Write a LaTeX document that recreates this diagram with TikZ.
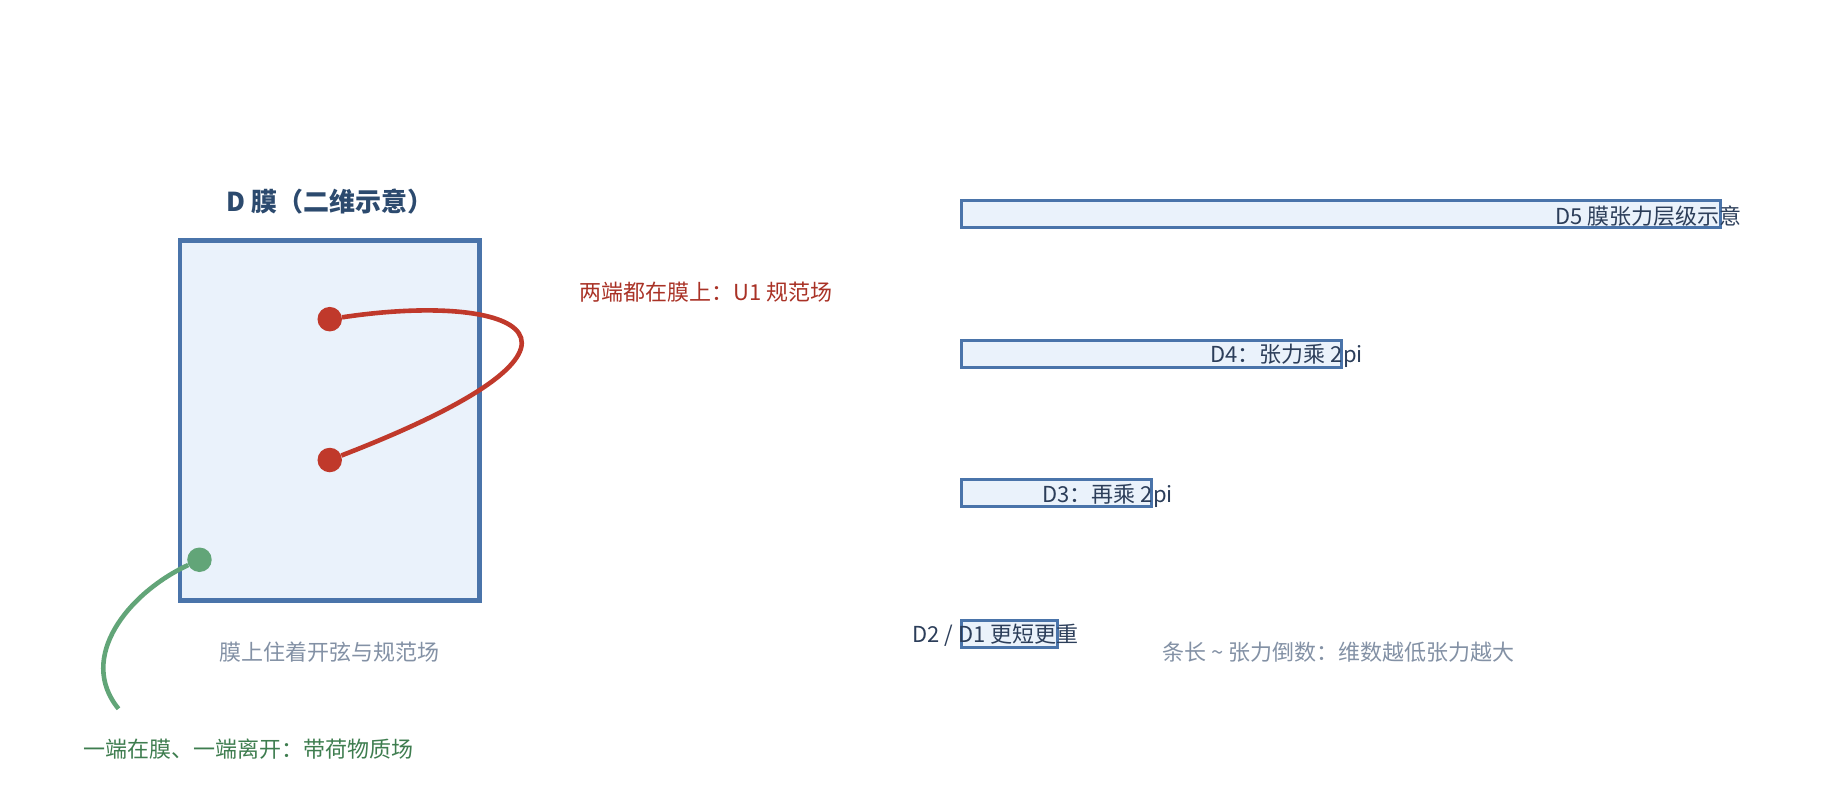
\documentclass[tikz,border=0pt]{standalone}
\usepackage{fontspec}
\setmainfont{Noto Sans CJK SC}
\usetikzlibrary{positioning}
\definecolor{braneblue}{HTML}{4A74AA}
\definecolor{branefill}{HTML}{EAF2FB}
\definecolor{openred}{HTML}{C0392B}
\definecolor{labelred}{HTML}{A93226}
\definecolor{chargegreen}{HTML}{62A578}
\definecolor{labelgreen}{HTML}{3E7D4F}
\definecolor{notegray}{HTML}{8391A5}
\definecolor{titlenavy}{HTML}{2C4A6E}
\definecolor{barnavy}{HTML}{2C3E5A}
\begin{document}
\begin{tikzpicture}[x=1.1735pt, y=-1.1735pt,
  lbl/.style={font=\fontsize{22}{26}\selectfont, inner sep=0pt},
  tbar/.style={draw=braneblue, line width=3pt, fill=branefill, anchor=west, minimum height=27pt, inner sep=0pt},
  dot/.style={circle, fill, inner sep=0pt, minimum size=24.5pt}]
\useasboundingbox (0,0) rectangle (1568,681.7);
% membrane
\node[draw=braneblue, line width=4.5pt, fill=branefill, minimum width=300pt, minimum height=360pt, inner sep=0pt] (brane) at (281,358.5){};
\node[font=\fontsize{26}{30}\selectfont\bfseries, text=titlenavy, inner sep=0pt] (title) at (281,172){D 膜（二维示意）};
\node[lbl, text=notegray] (branenote) at (281,556){膜上住着开弦与规范场};
% open strings
\node[dot, openred] (rtop) at (281,272){};
\node[dot, openred] (rbot) at (281,392){};
\draw[openred, line width=4.6pt](rtop) .. controls (440,248) and (545,290) .. (rbot);
\node[lbl, text=labelred, anchor=west] (redlbl) at (494,249){两端都在膜上：U1 规范场};
\node[dot, chargegreen] (gend) at (170,477){};
\coordinate (gfree) at (101,604);
\draw[chargegreen, line width=4.6pt](gend) .. controls (110,505) and (65,560) .. (gfree);
\node[lbl, text=labelgreen] (greenlbl) at (212,638){一端在膜、一端离开：带荷物质场};
% tension bars
\node[tbar, minimum width=759pt] (d5) at (818,182.5){};
\node[tbar, minimum width=380pt] (d4) at (818,301.5){};
\node[tbar, minimum width=190pt] (d3) at (818,420.5){};
\node[tbar, minimum width=96pt] (d2) at (818,540){};
\node[lbl, text=barnavy, anchor=east] (d5lbl) at ([xshift=20pt, yshift=-2pt]d5.east){D5 膜张力层级示意};
\node[lbl, text=barnavy, anchor=east] (d4lbl) at ([xshift=20pt, yshift=-2pt]d4.east){D4：张力乘 2pi};
\node[lbl, text=barnavy, anchor=east] (d3lbl) at ([xshift=20pt, yshift=-2pt]d3.east){D3：再乘 2pi};
\node[lbl, text=barnavy, anchor=east] (d2lbl) at ([xshift=20pt, yshift=-2pt]d2.east){D2 / D1 更短更重};
\node[lbl, text=notegray] (barnote) at (1141,556){条长 \textasciitilde{} 张力倒数：维数越低张力越大};
\end{tikzpicture}
\end{document}
